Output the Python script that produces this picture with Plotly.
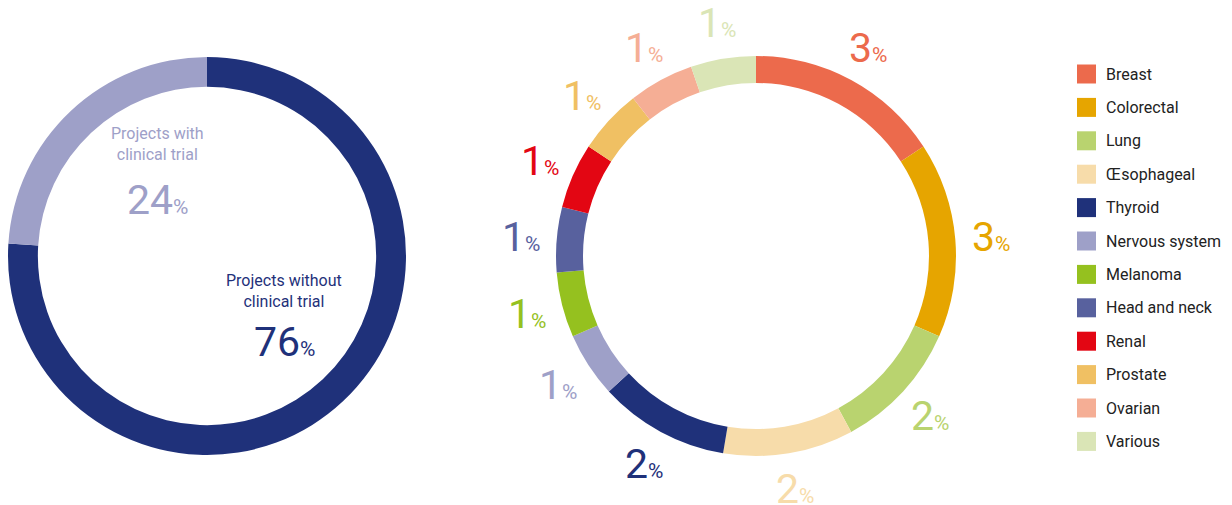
import math
import plotly.graph_objects as go

W, H = 1232, 505

# ---- data ----
trial_labels = ["Projects without clinical trial", "Projects with clinical trial"]
trial_values = [76, 24]
trial_colors = ["#1f317a", "#9ea0c8"]

cancer_types = ["Breast", "Colorectal", "Lung", "Œsophageal", "Thyroid", "Nervous system",
                "Melanoma", "Head and neck", "Renal", "Prostate", "Ovarian", "Various"]
cancer_values = [3, 3, 2, 2, 2, 1, 1, 1, 1, 1, 1, 1]
cancer_colors = ["#ec6a4c", "#e6a500", "#b9d36f", "#f7dcaa", "#1f317a", "#9ea0c8",
                 "#95c11f", "#58619e", "#e30613", "#f0c063", "#f5ae95", "#dae5b6"]

FONT = "Roboto"

def px_x(p):
    return p / W

def px_y(p):
    return 1 - p / H

fig = go.Figure()

# left donut
L_cx, L_cy, L_r = 207, 256, 199
fig.add_trace(go.Pie(
    labels=trial_labels, values=trial_values, sort=False, direction="clockwise",
    rotation=0, hole=0.85, textinfo="none", showlegend=False,
    marker=dict(colors=trial_colors, line=dict(width=0)),
    domain=dict(x=[px_x(L_cx - L_r), px_x(L_cx + L_r)], y=[px_y(L_cy + L_r), px_y(L_cy - L_r)]),
))

# right donut
R_cx, R_cy, R_r = 756, 256, 200
fig.add_trace(go.Pie(
    labels=cancer_types, values=cancer_values, sort=False, direction="clockwise",
    rotation=0, hole=0.865, textinfo="none", showlegend=False,
    marker=dict(colors=cancer_colors, line=dict(width=0)),
    domain=dict(x=[px_x(R_cx - R_r), px_x(R_cx + R_r)], y=[px_y(R_cy + R_r), px_y(R_cy - R_r)]),
))

def pct_text(v, big=41, small=21):
    return (f"<span style='font-size:{big}px'>{v}</span>"
            f"<span style='font-size:{small}px'>%</span>")

annotations = []

# left donut labels
left_pos = [(284, 291, 342), (157, 144, 200)]
for lab, val, col, (x, yt, yn) in zip(trial_labels, trial_values, trial_colors, left_pos):
    words = lab.replace(" clinical", "<br>clinical")
    annotations.append(dict(x=px_x(x), y=px_y(yt), xref="paper", yref="paper",
                            text=words, showarrow=False, xanchor="center", yanchor="middle",
                            font=dict(family=FONT, size=16, color=col)))
    annotations.append(dict(x=px_x(x), y=px_y(yn), xref="paper", yref="paper",
                            text=pct_text(val), showarrow=False, xanchor="center", yanchor="middle",
                            font=dict(family=FONT, size=21, color=col)))

# right donut labels at slice midpoints
total = sum(cancer_values)
cum = 0
label_r = 236
for val, col in zip(cancer_values, cancer_colors):
    mid = (cum + val / 2) / total * 2 * math.pi
    cum += val
    x = R_cx + label_r * math.sin(mid)
    y = R_cy - label_r * math.cos(mid)
    annotations.append(dict(x=px_x(x), y=px_y(y), xref="paper", yref="paper",
                            text=pct_text(val), showarrow=False, xanchor="center", yanchor="middle",
                            font=dict(family=FONT, size=21, color=col)))

# legend (markers on own axis)
row0, row_step = 74, 33.4
fig.add_trace(go.Scatter(
    x=[0] * len(cancer_types), y=list(range(len(cancer_types))), mode="markers",
    marker=dict(symbol="square", size=19, color=cancer_colors, line=dict(width=0)),
    hoverinfo="text", text=cancer_types, showlegend=False, xaxis="x", yaxis="y",
))
for i, name in enumerate(cancer_types):
    annotations.append(dict(x=px_x(1104), y=px_y(row0 + i * row_step), xref="paper", yref="paper",
                            text=name, showarrow=False, xanchor="left", yanchor="middle",
                            font=dict(family=FONT, size=16, color="#222222")))

fig.update_layout(
    width=W, height=H, margin=dict(l=0, r=0, t=0, b=0),
    paper_bgcolor="white", plot_bgcolor="white",
    xaxis=dict(domain=[px_x(1077), px_x(1096)], range=[-0.5, 0.5], visible=False, fixedrange=True),
    yaxis=dict(domain=[0, 1], range=[(H - row0) / row_step, -row0 / row_step],
               visible=False, fixedrange=True),
    annotations=annotations,
    font=dict(family=FONT),
)

fig.write_html("out.html", config={"displayModeBar": False},
               post_script="document.body.style.margin='0';")
